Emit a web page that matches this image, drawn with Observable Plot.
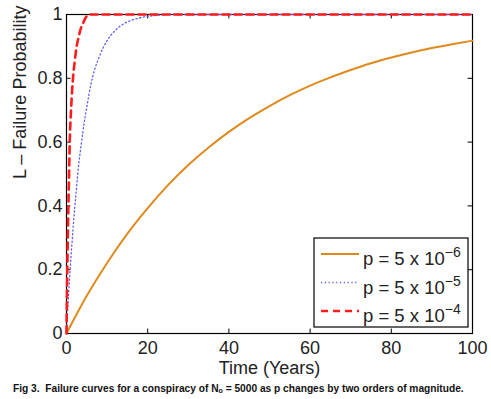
<!DOCTYPE html>
<html>
<head>
<meta charset="utf-8">
<script src="https://cdn.jsdelivr.net/npm/d3@7"></script>
<script src="https://cdn.jsdelivr.net/npm/@observablehq/plot@0.6"></script>
<style>
  html, body { margin: 0; padding: 0; background: #fff; }
  #wrap { position: relative; width: 491px; height: 399px; font-family: "Liberation Sans", Arial, sans-serif; }
  #caption { position: absolute; left: 13px; top: 383px; font-size: 10.2px; font-weight: bold; white-space: nowrap; color: #111; }
  #caption sub { font-size: 7px; vertical-align: -1px; }
</style>
</head>
<body>
<div id="wrap">
  <div id="chart"></div>
  <div id="caption">Fig 3.&nbsp; Failure curves for a conspiracy of N<sub>o</sub> = 5000 as p changes by two orders of magnitude.</div>
</div>
<script>
// ---- data ----
const seriesNames = ["5e-6", "5e-5", "5e-4"];
const legendBase = "p = 5 x 10";
const legendExp = ["\u22126", "\u22125", "\u22124"];

const tOrange = [0, 5, 10, 15, 20, 25, 30, 35, 40, 45, 50, 55, 60, 65, 70, 75, 80, 85, 90, 95, 100];
const lOrange = [0, 0.118, 0.221, 0.313, 0.393, 0.465, 0.528, 0.583, 0.632, 0.675, 0.713, 0.747, 0.777, 0.803, 0.826, 0.847, 0.865, 0.881, 0.895, 0.907, 0.918];

const tBlue = [0, 0.5, 1, 1.5, 2, 2.5, 3, 3.5, 4, 5, 6, 7, 8, 9, 10, 12, 14, 16, 18, 20, 22, 25, 100];
const lBlue = [0, 0.12, 0.22, 0.31, 0.39, 0.46, 0.53, 0.58, 0.63, 0.71, 0.78, 0.83, 0.865, 0.895, 0.918, 0.95, 0.97, 0.982, 0.989, 0.994, 0.997, 1, 1];

const tRed = [0, 0.2, 0.4, 0.6, 0.8, 1.2, 1.6, 2, 2.5, 3, 3.5, 4, 4.5, 5, 5.5, 100];
const lRed = [0, 0.2, 0.36, 0.48, 0.6, 0.72, 0.8, 0.85, 0.9, 0.93, 0.955, 0.97, 0.985, 0.995, 1, 1];

const xTicks = [0, 20, 40, 60, 80, 100];
const yTicks = [0, 0.2, 0.4, 0.6, 0.8, 1];
const yTickLabels = ["0", "0.2", "0.4", "0.6", "0.8", "1"];
const xLabel = "Time (Years)";
const yLabel = "L \u2013 Failure Probability";

// ---- build ----
const toRows = (ts, ls) => ts.map((t, i) => ({t, l: ls[i]}));
const orange = toRows(tOrange, lOrange);
const blue = toRows(tBlue, lBlue);
const red = toRows(tRed, lRed);

const cOrange = "#df8a1d", cBlue = "#5c5cf0", cRed = "#ff1c1c";
const font = "'Liberation Sans', Arial, sans-serif";

const W = 491, H = 378;
const plot = Plot.plot({
  width: W, height: H,
  marginLeft: 66, marginRight: 19, marginTop: 14, marginBottom: 45,
  style: {fontFamily: font, fontSize: "18px", color: "#222", background: "#fff"},
  x: {domain: [0, 100]},
  y: {domain: [0, 1]},
  marks: [
    Plot.axisX({ticks: xTicks, tickSize: 0, tickPadding: 8, fontSize: 18, label: null, tickFormat: d => String(d)}),
    Plot.axisY({ticks: yTicks, tickSize: 0, tickPadding: 4, fontSize: 18, label: null, tickFormat: d => yTickLabels[yTicks.indexOf(d)]}),
    Plot.frame({stroke: "#000", strokeWidth: 1.2}),
    // inward ticks (MATLAB style) on all four sides
    Plot.ruleX(xTicks, {x: d => d, y1: 0, y2: 0.014, stroke: "#000", strokeWidth: 1}),
    Plot.ruleX(xTicks, {x: d => d, y1: 0.986, y2: 1, stroke: "#000", strokeWidth: 1}),
    Plot.ruleY(yTicks, {y: d => d, x1: 0, x2: 1.1, stroke: "#000", strokeWidth: 1}),
    Plot.ruleY(yTicks, {y: d => d, x1: 98.9, x2: 100, stroke: "#000", strokeWidth: 1}),
    Plot.line(orange, {x: "t", y: "l", stroke: cOrange, strokeWidth: 2, curve: "monotone-x"}),
    Plot.line(blue, {x: "t", y: "l", stroke: cBlue, strokeWidth: 1.3, strokeDasharray: "1.2,2.6", curve: "monotone-x"}),
    Plot.line(red, {x: "t", y: "l", stroke: cRed, strokeWidth: 2.6, strokeDasharray: "7,5", curve: "monotone-x"}),
    Plot.text([xLabel], {frameAnchor: "bottom", dy: 28, lineAnchor: "top", fontSize: 18, fill: "#222"}),
    Plot.text([yLabel], {frameAnchor: "left", rotate: -90, dx: -46, dy: 5, lineAnchor: "middle", fontSize: 18, fill: "#222"})
  ]
});
document.getElementById("chart").appendChild(plot);

// ---- legend ----
const svg = d3.select(plot);
const lg = svg.append("g").attr("font-family", font).attr("fill", "#222").attr("text-anchor", "start");
lg.append("rect").attr("x", 314).attr("y", 238).attr("width", 154).attr("height", 89)
  .attr("fill", "#fff").attr("stroke", "#000").attr("stroke-width", 1.2);
const legendStyles = [
  {c: cOrange, w: 2, dash: null},
  {c: cBlue, w: 1.3, dash: "1.2,2.6"},
  {c: cRed, w: 2.6, dash: "7,5"}
];
seriesNames.forEach((name, i) => {
  const y = 254 + i * 28.5;
  const s = legendStyles[i];
  const ln = lg.append("line").attr("x1", 321).attr("x2", 359).attr("y1", y).attr("y2", y)
    .attr("stroke", s.c).attr("stroke-width", s.w);
  if (s.dash) ln.attr("stroke-dasharray", s.dash);
  const tx = lg.append("text").attr("x", 363).attr("y", y + 11).attr("font-size", 18.5).attr("text-anchor", "start");
  tx.append("tspan").text(legendBase);
  tx.append("tspan").attr("dy", -8).attr("font-size", 14).text(legendExp[i]);
});
</script>
</body>
</html>
